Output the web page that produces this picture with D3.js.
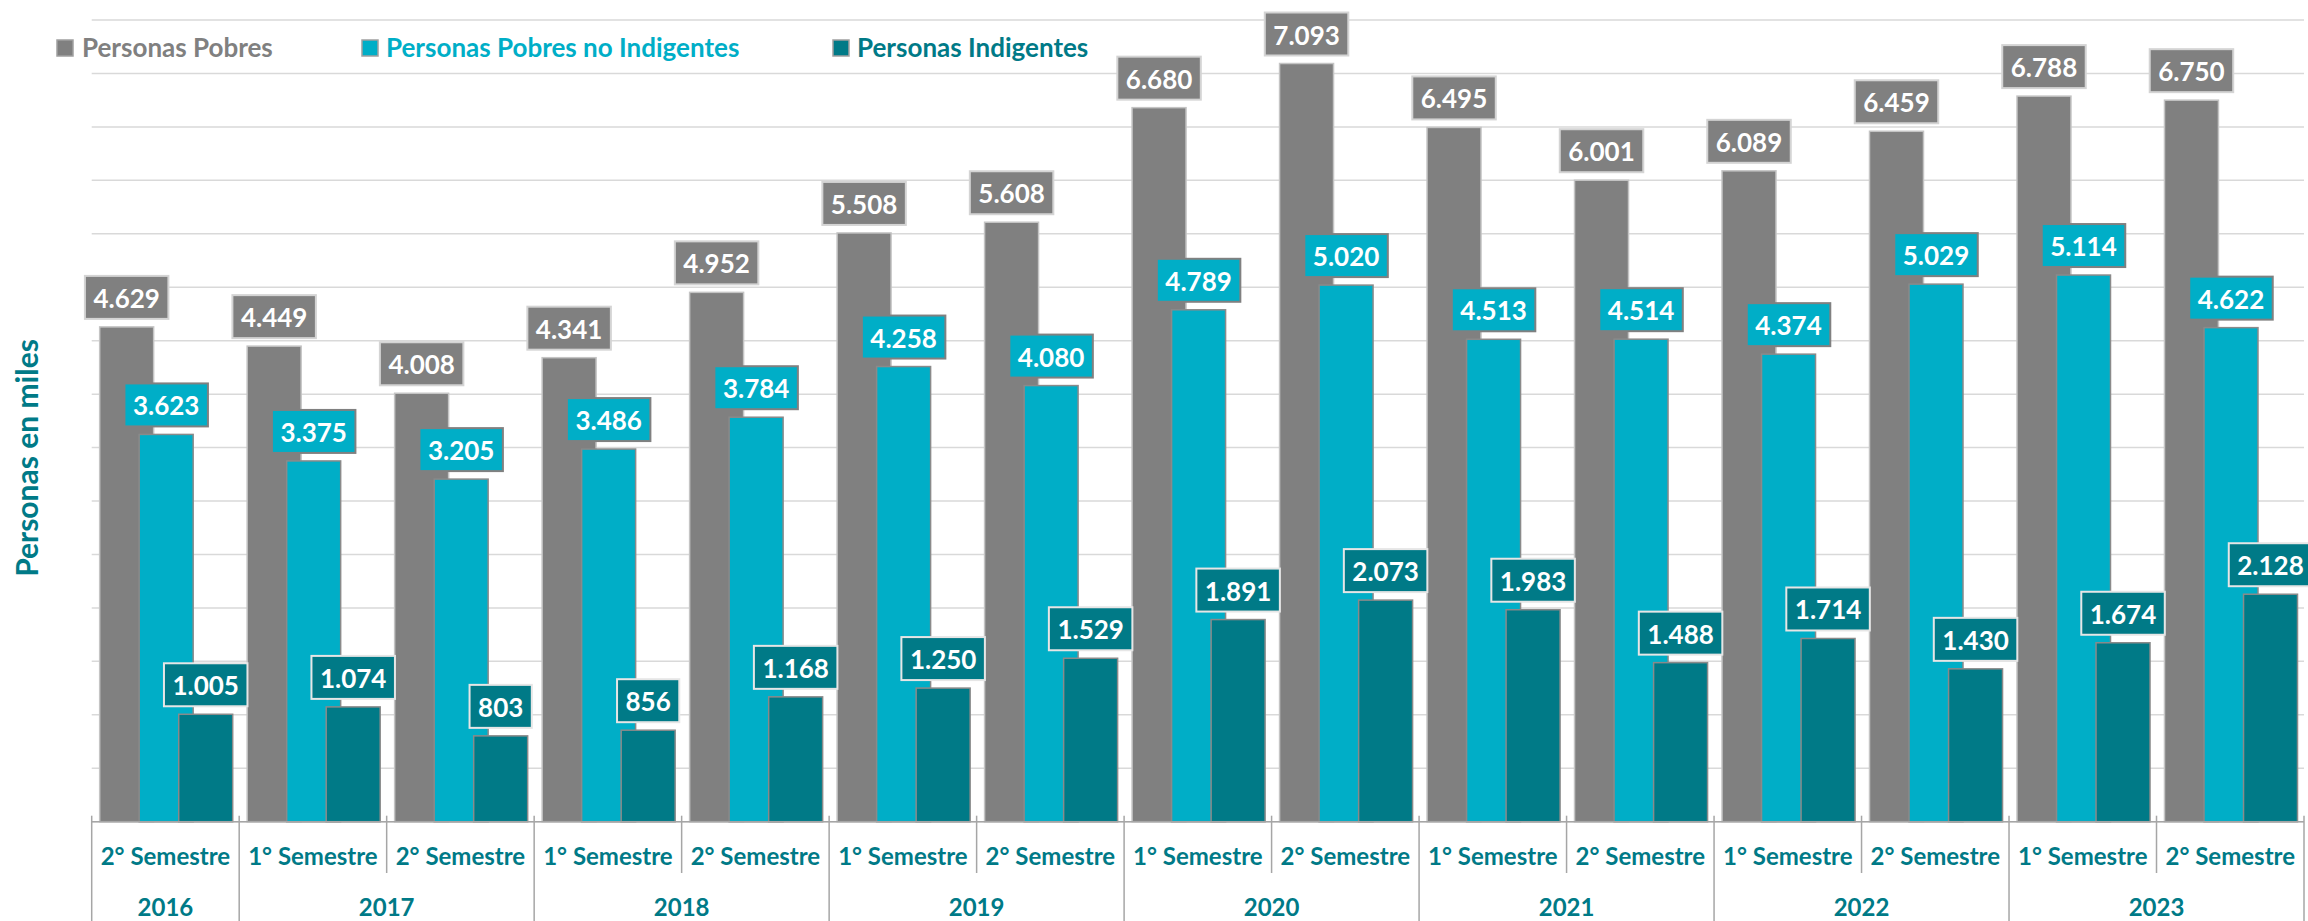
<!DOCTYPE html>
<html>
<head>
<meta charset="utf-8">
<script src="https://cdn.jsdelivr.net/npm/d3@7"></script>
<style>
  body { margin: 0; background: #fff; }
  text { font-family: Lato, "Open Sans", sans-serif; font-weight: bold; }
</style>
</head>
<body>
<div id="chart"></div>
<script>
var width = 2308, height = 921;

// data
var years = ["2016", "2017", "2017", "2018", "2018", "2019", "2019", "2020", "2020", "2021", "2021", "2022", "2022", "2023", "2023"];
var semesters = ["2° Semestre", "1° Semestre", "2° Semestre", "1° Semestre", "2° Semestre", "1° Semestre", "2° Semestre",
  "1° Semestre", "2° Semestre", "1° Semestre", "2° Semestre", "1° Semestre", "2° Semestre", "1° Semestre", "2° Semestre"];
var pobres = [4629, 4449, 4008, 4341, 4952, 5508, 5608, 6680, 7093, 6495, 6001, 6089, 6459, 6788, 6750];
var pobresNoIndigentes = [3623, 3375, 3205, 3486, 3784, 4258, 4080, 4789, 5020, 4513, 4514, 4374, 5029, 5114, 4622];
var indigentes = [1005, 1074, 803, 856, 1168, 1250, 1529, 1891, 2073, 1983, 1488, 1714, 1430, 1674, 2128];
var seriesNames = ["Personas Pobres", "Personas Pobres no Indigentes", "Personas Indigentes"];

var colors = ["#808080", "#00aec7", "#007a87"];
var barStroke = ["#c4c4c4", "#8a8a8a", "#8a8a8a"];
var boxStroke = ["#d4d4d4", "#808080", "#e6e6e6"];

var series = [pobres, pobresNoIndigentes, indigentes];
var cats = d3.range(years.length);

var plotLeft = 91.7, plotRight = 2304, plotTop = 20, plotBottom = 821.7;

var x = d3.scaleBand().domain(cats).range([plotLeft, plotRight]).padding(0);
var y = d3.scaleLinear().domain([0, 7500]).range([plotBottom, plotTop]);

var fmt = d3.formatLocale({decimal: ",", thousands: ".", grouping: [3], currency: ["", ""]}).format(",d");

var svg = d3.select("#chart").append("svg")
  .attr("width", width)
  .attr("height", height);

// gridlines
svg.append("g")
  .selectAll("line")
  .data(y.ticks(15))
  .enter().append("line")
    .attr("x1", plotLeft)
    .attr("x2", plotRight)
    .attr("y1", function(d) { return y(d); })
    .attr("y2", function(d) { return y(d); })
    .attr("stroke", "#d9d9d9")
    .attr("stroke-width", 1.5);

var bw = x.bandwidth();
function barX(i, s) { return x(i) + bw * (0.054 + s * 0.268); }
var barW = bw * 0.366;

// bars, drawn series by series so later ones sit on top
series.forEach(function(vals, s) {
  svg.append("g")
    .selectAll("rect")
    .data(vals)
    .enter().append("rect")
      .attr("x", function(d, i) { return barX(i, s); })
      .attr("y", function(d) { return y(d); })
      .attr("width", barW)
      .attr("height", function(d) { return y(0) - y(d); })
      .attr("fill", colors[s])
      .attr("stroke", barStroke[s])
      .attr("stroke-width", 1.5);
});

// value labels
series.forEach(function(vals, s) {
  var g = svg.append("g")
    .selectAll("g")
    .data(vals)
    .enter().append("g");

  var rects = g.append("rect")
    .attr("fill", colors[s])
    .attr("stroke", boxStroke[s])
    .attr("stroke-width", 2);

  var txt = g.append("text")
    .attr("x", function(d, i) { return barX(i, s) + barW / 2; })
    .attr("y", function(d) { return y(d) - 8 - 11; })
    .attr("text-anchor", "middle")
    .attr("fill", "#fff")
    .style("font-size", "26px")
    .text(function(d) { return fmt(d); });

  txt.each(function(d, i) {
    var w = this.getComputedTextLength() + 17;
    d3.select(rects.nodes()[i])
      .attr("x", barX(i, s) + barW / 2 - w / 2)
      .attr("y", y(d) - 8 - 43)
      .attr("width", w)
      .attr("height", 43);
  });
});

// category axis
var axis = svg.append("g").attr("stroke", "#a6a6a6").attr("stroke-width", 1.5);
axis.append("line")
  .attr("x1", plotLeft).attr("x2", plotRight)
  .attr("y1", plotBottom).attr("y2", plotBottom);

cats.concat([cats.length]).forEach(function(i) {
  var xx = i < cats.length ? x(i) : plotRight;
  var yearEdge = i == 0 || i == cats.length || years[i] != years[i - 1];
  axis.append("line")
    .attr("x1", xx).attr("x2", xx)
    .attr("y1", plotBottom - 6)
    .attr("y2", yearEdge ? height : 873);
});

svg.append("g")
  .selectAll("text")
  .data(semesters)
  .enter().append("text")
    .attr("x", function(d, i) { return x(i) + bw / 2; })
    .attr("y", 865)
    .attr("text-anchor", "middle")
    .attr("fill", "#007a87")
    .style("font-size", "24px")
    .text(function(d) { return d; });

var yearList = Array.from(new Set(years));
svg.append("g")
  .selectAll("text")
  .data(yearList)
  .enter().append("text")
    .attr("x", function(d) {
      var idx = cats.filter(function(i) { return years[i] == d; });
      return (x(idx[0]) + x(idx[idx.length - 1]) + bw) / 2;
    })
    .attr("y", 916)
    .attr("text-anchor", "middle")
    .attr("fill", "#007a87")
    .style("font-size", "24px")
    .text(function(d) { return d; });

// y axis title
svg.append("text")
  .attr("transform", "translate(38,458) rotate(-90)")
  .attr("text-anchor", "middle")
  .attr("fill", "#007a87")
  .style("font-size", "30px")
  .text("Personas en miles");

// legend
var legendX = [57, 362, 833];
var legend = svg.append("g")
  .selectAll("g")
  .data(seriesNames)
  .enter().append("g")
    .attr("transform", function(d, i) { return "translate(" + legendX[i] + ",40)"; });

legend.append("rect")
  .attr("width", 16)
  .attr("height", 16)
  .attr("fill", function(d, i) { return colors[i]; })
  .attr("stroke", "#a0a0a0")
  .attr("stroke-width", 1.5);

legend.append("text")
  .attr("x", function(d, i) { return i == 0 ? 25 : 24; })
  .attr("y", 17)
  .attr("fill", function(d, i) { return i == 0 ? "#808080" : colors[i]; })
  .style("font-size", "26px")
  .text(function(d) { return d; });
</script>
</body>
</html>
